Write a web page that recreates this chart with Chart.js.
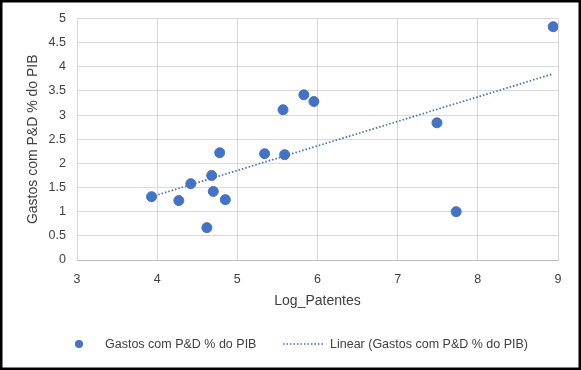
<!DOCTYPE html>
<html>
<head>
<meta charset="utf-8">
<script src="https://cdn.jsdelivr.net/npm/chart.js@4.4.0/dist/chart.umd.min.js"></script>
<style>
  html, body { margin: 0; padding: 0; background: #fff; }
  #wrap { width: 581px; height: 370px; position: relative; }
</style>
</head>
<body>
<div id="wrap"><canvas id="chart" width="581" height="370"></canvas></div>
<script>
// valores
let logPatentes = [3.93, 4.27, 4.42, 4.62, 4.68, 4.70, 4.78, 4.85, 5.34, 5.57, 5.59, 5.83, 5.955, 7.49, 7.73, 8.94]
let gastosPD = [1.31, 1.23, 1.58, 0.67, 1.75, 1.42, 2.22, 1.25, 2.20, 3.11, 2.18, 3.42, 3.28, 2.84, 1.00, 4.83]
// linha de tendencia (extremos)
let trendX = [3.93, 8.93]
let trendY = [1.31, 3.85]
let seriesName = 'Gastos com P&D % do PIB'
let trendName = 'Linear (Gastos com P&D % do PIB)'

let blue = '#4472C4'
let textColor = '#404040'
let fontFamily = "'Liberation Sans', Arial, sans-serif"

let points = []
for (let i = 0; i < logPatentes.length; i++) {
  points.push({x: logPatentes[i], y: gastosPD[i]})
}
let trend = []
for (let i = 0; i < trendX.length; i++) {
  trend.push({x: trendX[i], y: trendY[i]})
}

// borda e legenda desenhadas a mao
let frameLegend = {
  id: 'frameLegend',
  beforeDraw: function (chart) {
    let ctx = chart.ctx
    ctx.save()
    ctx.fillStyle = '#fff'
    ctx.fillRect(0, 0, chart.width, chart.height)
    ctx.restore()
  },
  afterDraw: function (chart) {
    let ctx = chart.ctx
    ctx.save()
    ctx.strokeStyle = '#000'
    ctx.lineWidth = 2.5
    ctx.strokeRect(1.25, 1.25, chart.width - 2.5, chart.height - 2.5)
    let y = 344
    ctx.fillStyle = blue
    ctx.beginPath()
    ctx.arc(79, y, 4, 0, Math.PI * 2)
    ctx.fill()
    ctx.font = '12.5px ' + fontFamily
    ctx.fillStyle = textColor
    ctx.textBaseline = 'middle'
    ctx.fillText(seriesName, 105, y + 1)
    ctx.strokeStyle = blue
    ctx.lineWidth = 1.5
    ctx.setLineDash([1.5, 2])
    ctx.beginPath()
    ctx.moveTo(283, y)
    ctx.lineTo(324, y)
    ctx.stroke()
    ctx.setLineDash([])
    ctx.fillText(trendName, 330, y + 1)
    ctx.restore()
  }
}

let ctx = document.getElementById('chart').getContext('2d')
let myChart = new Chart(ctx, {
  type: 'scatter',
  data: {
    datasets: [{
      label: seriesName,
      data: points,
      backgroundColor: blue,
      borderColor: blue,
      pointRadius: 5,
      pointHoverRadius: 5,
      order: 1
    }, {
      label: trendName,
      data: trend,
      showLine: true,
      borderColor: blue,
      borderWidth: 1.75,
      borderDash: [1.5, 2],
      pointRadius: 0,
      fill: false,
      order: 2
    }]
  },
  options: {
    responsive: false,
    animation: false,
    layout: {
      padding: {left: 18, top: 18, right: 23, bottom: 56}
    },
    plugins: {
      legend: {display: false},
      tooltip: {enabled: false}
    },
    scales: {
      x: {
        type: 'linear',
        min: 3,
        max: 9,
        ticks: {stepSize: 1, color: textColor, padding: 12, font: {size: 12.5, family: fontFamily}},
        grid: {color: '#d9d9d9', drawTicks: false},
        border: {color: '#bfbfbf'},
        title: {display: true, text: 'Log_Patentes', color: textColor, font: {size: 14, family: fontFamily}, padding: {top: 6, bottom: 4}},
        afterFit: function (scale) { scale.height = 54 }
      },
      y: {
        min: 0,
        max: 5,
        ticks: {
          stepSize: 0.5,
          color: textColor,
          padding: 11,
          font: {size: 12.5, family: fontFamily},
          callback: function (value) { return String(value) }
        },
        grid: {color: '#d9d9d9', drawTicks: false},
        border: {display: false},
        title: {display: true, text: 'Gastos com P&D % do PIB', color: textColor, font: {size: 14, family: fontFamily}, padding: {top: 7, bottom: 0}},
        afterFit: function (scale) { scale.width = 59 }
      }
    }
  },
  plugins: [frameLegend]
})
</script>
</body>
</html>
